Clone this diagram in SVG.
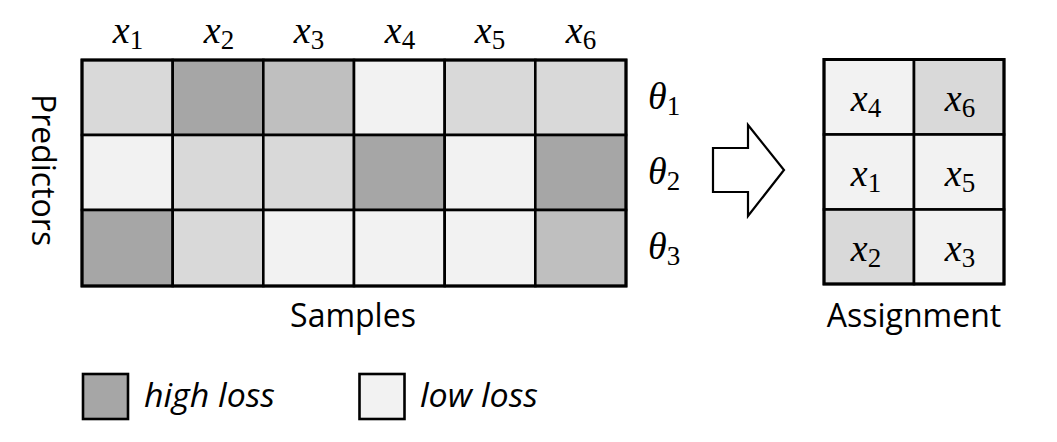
<svg xmlns="http://www.w3.org/2000/svg" width="1057" height="442" viewBox="0 0 1057 442">
<style>
.c{stroke:#000;stroke-width:2.6}
.hi{fill:#a6a6a6}.md{fill:#bfbfbf}.lt{fill:#d9d9d9}.lo{fill:#f2f2f2}
.m{font-family:"Liberation Serif","DejaVu Serif",serif;font-style:italic;font-size:38px;fill:#000}
.s{font-style:normal;font-size:27px}
.t{font-family:"Open Sans","Noto Sans","Liberation Sans",sans-serif;font-size:32px;fill:#000}
.i{font-style:italic;font-size:32px}
</style>
<rect width="1057" height="442" fill="#fff"/>
<g id="labels-x" class="m" text-anchor="middle">
<text x="128" y="43">x<tspan class="s" dy="6">1</tspan></text>
<text x="219" y="43">x<tspan class="s" dy="6">2</tspan></text>
<text x="309" y="43">x<tspan class="s" dy="6">3</tspan></text>
<text x="400" y="43">x<tspan class="s" dy="6">4</tspan></text>
<text x="490" y="43">x<tspan class="s" dy="6">5</tspan></text>
<text x="581" y="43">x<tspan class="s" dy="6">6</tspan></text>
</g>
<g id="matrix">
<rect class="c lt" x="82" y="60" width="90.7" height="75"/>
<rect class="c hi" x="172.7" y="60" width="90.7" height="75"/>
<rect class="c md" x="263.3" y="60" width="90.7" height="75"/>
<rect class="c lo" x="354" y="60" width="90.7" height="75"/>
<rect class="c lt" x="444.7" y="60" width="90.7" height="75"/>
<rect class="c lt" x="535.3" y="60" width="90.7" height="75"/>
<rect class="c lo" x="82" y="135" width="90.7" height="75"/>
<rect class="c lt" x="172.7" y="135" width="90.7" height="75"/>
<rect class="c lt" x="263.3" y="135" width="90.7" height="75"/>
<rect class="c hi" x="354" y="135" width="90.7" height="75"/>
<rect class="c lo" x="444.7" y="135" width="90.7" height="75"/>
<rect class="c hi" x="535.3" y="135" width="90.7" height="75"/>
<rect class="c hi" x="82" y="210" width="90.7" height="76"/>
<rect class="c lt" x="172.7" y="210" width="90.7" height="76"/>
<rect class="c lo" x="263.3" y="210" width="90.7" height="76"/>
<rect class="c lo" x="354" y="210" width="90.7" height="76"/>
<rect class="c lo" x="444.7" y="210" width="90.7" height="76"/>
<rect class="c md" x="535.3" y="210" width="90.7" height="76"/>
<rect x="82" y="60" width="544" height="226" fill="none" stroke="#000" stroke-width="3"/>
</g>
<g id="labels-theta" class="m">
<text x="648" y="109">θ<tspan class="s" dy="6">1</tspan></text>
<text x="648" y="184">θ<tspan class="s" dy="6">2</tspan></text>
<text x="648" y="259">θ<tspan class="s" dy="6">3</tspan></text>
</g>
<g id="label-predictors"><text class="t" transform="translate(32,170) rotate(90)" text-anchor="middle">Predictors</text></g>
<g id="label-samples"><text class="t" x="353" y="327" text-anchor="middle">Samples</text></g>
<g id="connectors">
<path d="M713,148 H748 V125 L784,170 L748,216 V192 H713 Z" fill="#fff" stroke="#000" stroke-width="2.2" stroke-linejoin="miter"/>
</g>
<g id="assignment">
<rect class="c lo" x="824" y="59.5" width="90" height="75"/>
<rect class="c lt" x="914" y="59.5" width="90" height="75"/>
<rect class="c lo" x="824" y="134.5" width="90" height="75"/>
<rect class="c lo" x="914" y="134.5" width="90" height="75"/>
<rect class="c lt" x="824" y="209.5" width="90" height="74.5"/>
<rect class="c lo" x="914" y="209.5" width="90" height="74.5"/>
<rect x="824" y="59.5" width="180" height="224.5" fill="none" stroke="#000" stroke-width="3"/>
<g class="m" text-anchor="middle">
<text x="866" y="111">x<tspan class="s" dy="6">4</tspan></text>
<text x="960" y="111">x<tspan class="s" dy="6">6</tspan></text>
<text x="866" y="186">x<tspan class="s" dy="6">1</tspan></text>
<text x="960" y="186">x<tspan class="s" dy="6">5</tspan></text>
<text x="866" y="261">x<tspan class="s" dy="6">2</tspan></text>
<text x="960" y="261">x<tspan class="s" dy="6">3</tspan></text>
</g>
<text class="t" x="914" y="327" text-anchor="middle">Assignment</text>
</g>
<g id="legend-high">
<rect class="c hi" x="83" y="374" width="45" height="45"/>
<text class="t i" x="144" y="407" textLength="131" lengthAdjust="spacingAndGlyphs">high loss</text>
</g>
<g id="legend-low">
<rect class="c lo" x="359.5" y="374" width="45" height="45"/>
<text class="t i" x="420" y="407" textLength="118" lengthAdjust="spacingAndGlyphs">low loss</text>
</g>
</svg>
